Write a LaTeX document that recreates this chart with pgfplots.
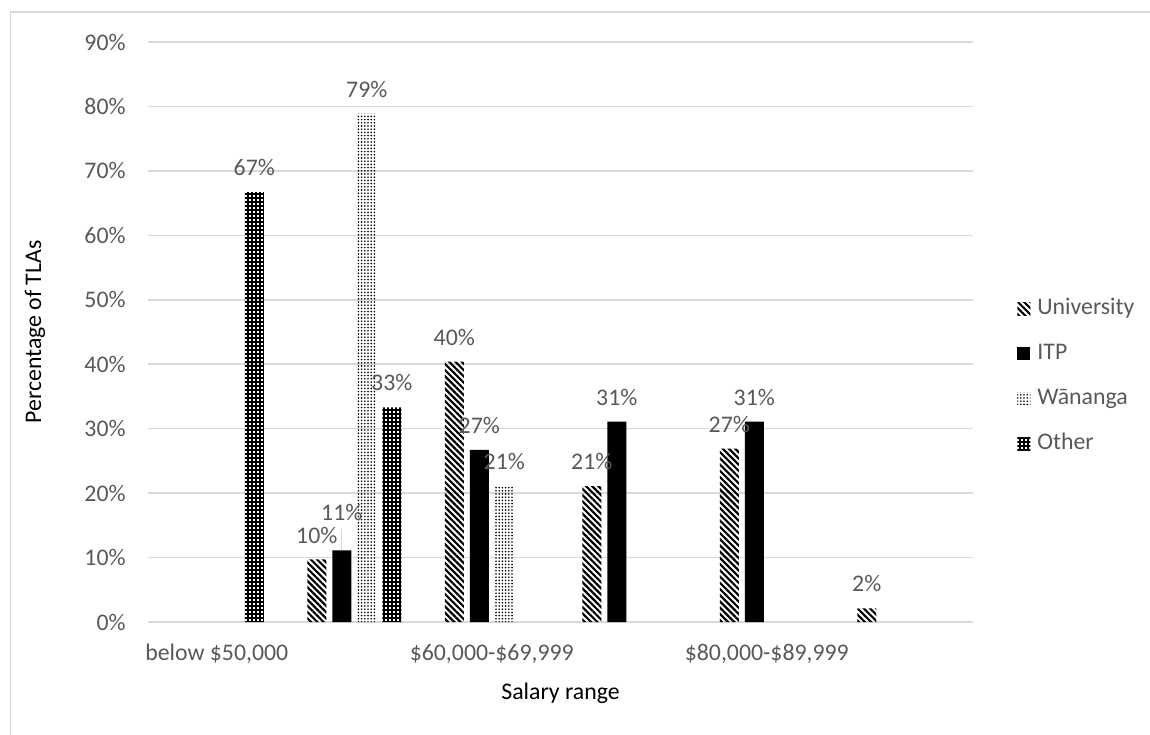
\documentclass[border=0pt]{standalone}
\usepackage{fontspec}
\setmainfont{Carlito}
\usepackage{pgfplots}
\pgfplotsset{compat=1.18}
\usetikzlibrary{patterns.meta}

\definecolor{txt}{HTML}{595959}
\definecolor{gridc}{HTML}{D9D9D9}

\tikzset{
  uni/.style={pattern={Lines[angle=-45,distance=2.2pt,line width=1.1pt]},pattern color=black},
  itp/.style={fill=black},
  wan/.style={pattern={Dots[distance=1.6pt,radius=0.45pt]},pattern color=black},
  oth/.style={pattern={Hatch[angle=0,distance=2pt,line width=1.1pt]},pattern color=black},
}

\begin{document}
\begin{tikzpicture}
\fontsize{11.9}{14}\selectfont
\begin{axis}[
  at={(74pt,56pt)}, anchor=south west,
  scale only axis, width=412.5pt, height=290pt,
  ybar=3pt, bar width=9.5pt,
  xmin=-0.5, xmax=5.5, ymin=0, ymax=90,
  xtick={0,2,4},
  xticklabels={{below \$50,000}, {\$60,000-\$69,999}, {\$80,000-\$89,999}},
  ytick={0,10,...,90},
  yticklabel={\pgfmathprintnumber{\tick}\%},
  /pgf/number format/assume math mode=true,
  major tick length=0pt,
  axis line style={draw=none},
  ymajorgrids, grid style={draw=gridc, line width=0.75pt},
  tick label style={font=\fontsize{11.9}{14}\selectfont, text=txt},
  yticklabel style={anchor=east, inner sep=0pt, xshift=-11pt},
  xticklabel style={anchor=base, inner sep=0pt, yshift=-19pt},
  label style={font=\fontsize{11.9}{14}\selectfont, text=txt},
  xlabel={Salary range},
  ylabel={Percentage of TLAs},
  every axis x label/.style={at={([yshift=-35.5pt]axis description cs:0.5,0)}, anchor=center},
  every axis y label/.style={at={([xshift=-56.5pt]axis description cs:0,0.5)}, anchor=center, rotate=90},
  nodes near coords={\pgfmathprintnumber[fixed,precision=0]{\pgfplotspointmeta}\%},
  nodes near coords align=center,
  every node near coord/.append style={yshift=12.25pt, font=\fontsize{11.9}{14}\selectfont, text=txt},
  legend style={at={([xshift=22pt]axis description cs:1,0.424)}, anchor=west,
    draw=none, fill=none, inner sep=0pt, row sep=11pt,
    font=\fontsize{11.9}{14}\selectfont, text=txt,
    nodes={inner sep=0pt, text height=8.5pt, text depth=3pt},
    /tikz/every odd column/.append style={column sep=3.5pt}},
  legend cell align=left,
  legend image code/.code={\draw[draw=none,#1] (0pt,-3.25pt) rectangle (6.5pt,3.25pt);},
]
% University
\addplot[draw=none, uni] coordinates {(1,9.7) (2,40.4) (3,21.1) (4,26.9) (5,2.1)};
% ITP (the 11% label sits higher, with a leader line to its bar)
\addplot[draw=none, itp,
  coordinate style/.condition={x==1}{yshift=6.75pt, name=itplab}]
  coordinates {(1,11.1) (2,26.7) (3,31.1) (4,31.1)};
% Wananga
\addplot[draw=none, wan] coordinates {(1,78.9) (2,21.1)};
% Other
\addplot[draw=none, oth] coordinates {(0,66.7) (1,33.3)};
\legend{University, ITP, Wānanga, Other}
\end{axis}
\draw[gridc, line width=0.6pt] ([yshift=-19pt]itplab.center) -- ([yshift=-8.5pt]itplab.center);
% chart frame
\draw[gridc, line width=0.9pt] (5.25pt,-10pt) rectangle (600pt,361pt);
\pgfresetboundingbox
\useasboundingbox (0,0) rectangle (575pt,367pt);
\end{tikzpicture}
\end{document}
